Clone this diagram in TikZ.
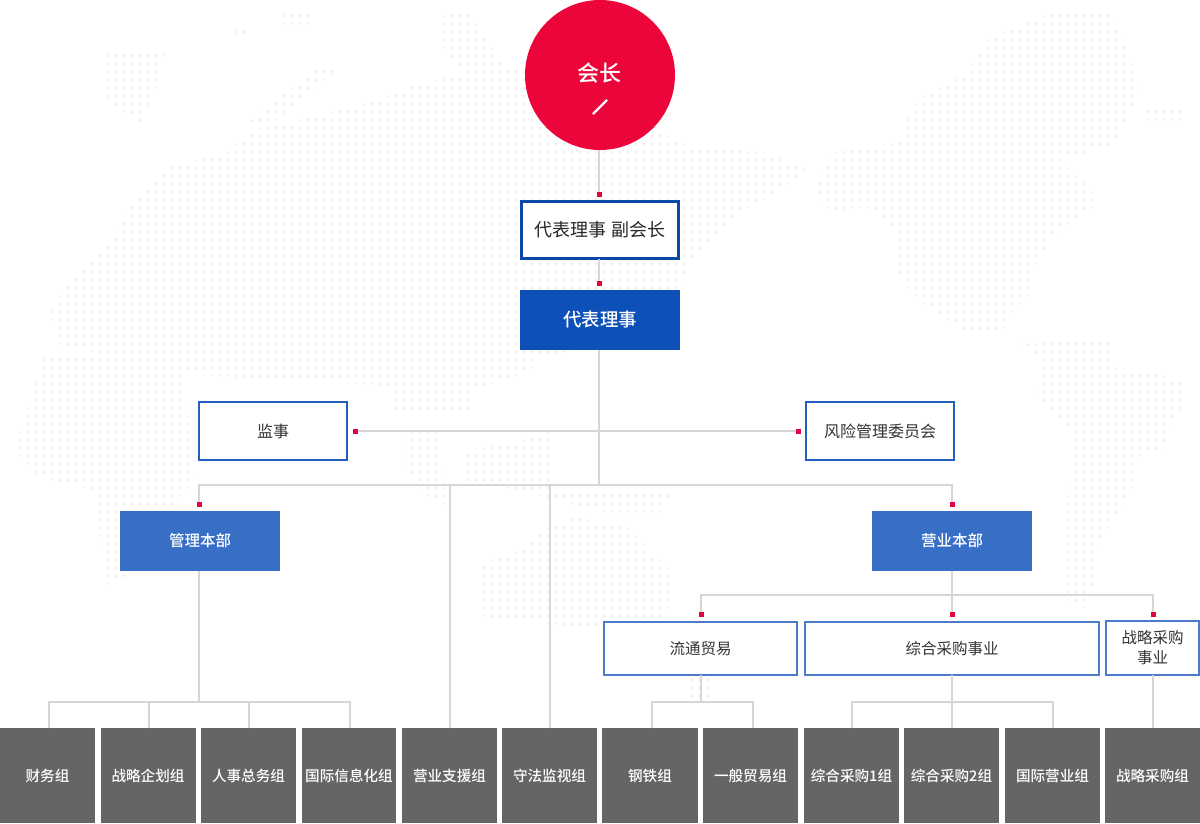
\documentclass[tikz,border=0pt]{standalone}
\usepackage{fontspec}
\usepackage{xcolor}
\setmainfont{Noto Sans CJK SC}
\newfontfamily\cjk{Noto Sans CJK SC}
\newfontfamily\cjkmed{Noto Sans CJK SC Medium}

\definecolor{chairred}{HTML}{EC053B}
\definecolor{dotred}{HTML}{E4053F}
\definecolor{deepblue}{HTML}{0D50B8}
\definecolor{midblue}{HTML}{386FC6}
\definecolor{edgeblue}{HTML}{1F5FBF}
\definecolor{softblue}{HTML}{4A7CC9}
\definecolor{teamgray}{HTML}{656567}
\definecolor{wiregray}{HTML}{D6D6D6}
\definecolor{textgray}{HTML}{333333}
\definecolor{mapgray}{HTML}{F1F1F1}

\begin{document}
\begin{tikzpicture}[x=1pt,y=-1pt]

    % --- Global Settings ---
    \tikzset{
        wire/.style={line width=2pt, wiregray},
        mapdots/.style={line width=3.6pt, mapgray, line cap=round, dash pattern=on 0pt off 8pt},
        reddot/.style={fill=dotred, inner sep=0pt, outer sep=0pt, minimum size=5pt},
        plainbox/.style={fill=white, inner sep=0pt, outer sep=0pt, align=center, text=textgray, font=\cjk\fontsize{16}{20}\selectfont},
        auditbox/.style={plainbox, draw=edgeblue, line width=2pt, minimum width=148pt, minimum height=58pt},
        bizbox/.style={plainbox, draw=softblue, line width=2pt, minimum height=53pt, font=\cjk\fontsize{15.5}{20}\selectfont},
        hqbox/.style={fill=midblue, text=white, inner sep=0pt, outer sep=0pt, minimum width=160pt, minimum height=60pt, font=\cjkmed\fontsize{15.5}{18}\selectfont},
        teambox/.style={fill=teamgray, text=white, inner sep=0pt, outer sep=0pt, minimum height=95pt, font=\cjkmed\fontsize{14.6}{18}\selectfont}
    }

    \useasboundingbox (0,0) rectangle (1200,823);

    % --- Dotted world map behind the chart ---
    \begin{scope}
        \clip (50,314) -- (65,287) -- (100,253) -- (119,230) -- (130,207) -- (153,184) -- (168,168) -- (226,153) -- (253,130) -- (306,119) -- (379,100) -- (417,84) -- (478,73) -- (478,54) -- (600,100) -- (685,145) -- (765,153) -- (808,170) -- (772,195) -- (742,210) -- (715,237) -- (692,260) -- (680,285) -- (620,345) -- (532,356) -- (532,372) -- (475,388) -- (470,410) -- (394,410) -- (394,386) -- (300,380) -- (200,375) -- (60,345) -- cycle
              (45,355) -- (180,350) -- (195,480) -- (180,495) -- (140,570) -- (105,585) -- (96,490) -- (40,478) -- (15,450) -- (30,400) -- cycle
              (107,54) -- (165,54) -- (155,90) -- (140,124) -- (107,100) -- cycle
              (283,13) -- (310,13) -- (310,24) -- (283,24) -- cycle
              (235,26) -- (247,26) -- (247,34) -- (235,34) -- cycle
              (320,66) -- (336,70) -- (270,125) -- (245,125) -- cycle
              (444,13) -- (469,13) -- (494,50) -- (494,75) -- (467,75) -- (444,50) -- cycle
              (405,432) -- (440,432) -- (445,505) -- (425,495) -- (405,465) -- cycle
              (465,450) -- (512,445) -- (552,428) -- (552,490) -- (640,490) -- (670,495) -- (660,512) -- (600,512) -- (520,490) -- (465,480) -- cycle
              (580,516) -- (600,524) -- (630,528) -- (650,552) -- (672,572) -- (672,600) -- (662,620) -- (590,628) -- (530,622) -- (484,618) -- (480,565) -- (520,550) -- (540,530) -- cycle
              (690,677) -- (710,677) -- (710,703) -- (690,703) -- cycle
              (1052,13) -- (1109,13) -- (1128,50) -- (1140,92) -- (1113,145) -- (1059,160) -- (1090,188) -- (1098,203) -- (1071,222) -- (1052,237) -- (1036,264) -- (1029,275) -- (1029,295) -- (1006,318) -- (1002,333) -- (967,333) -- (933,310) -- (914,295) -- (898,275) -- (898,233) -- (868,207) -- (830,210) -- (814,191) -- (833,153) -- (902,142) -- (906,122) -- (918,100) -- (967,73) -- (990,38) -- cycle
              (1147,105) -- (1182,105) -- (1182,120) -- (1147,120) -- cycle
              (1021,344) -- (1109,340) -- (1113,367) -- (1182,379) -- (1185,402) -- (1170,425) -- (1163,448) -- (1132,459) -- (1132,490) -- (1117,513) -- (1094,551) -- (1094,582) -- (1085,608) -- (1068,600) -- (1067,509) -- (1075,432) -- (1052,413) -- (1036,394) -- (1044,360) -- cycle;
        \foreach \y in {8,16,...,704} {
            \draw[mapdots] (4,\y) -- (1200,\y);
        }
    \end{scope}

    % --- Top of the chart ---
    \node[circle, fill=chairred, inner sep=0pt, minimum size=150pt] (chair) at (600,75) {};
    \node[text=white, inner sep=0pt, font=\cjkmed\fontsize{22}{24}\selectfont] (chairtext) at (599,73) {会长};
    \coordinate (slashA) at (593,114);
    \coordinate (slashB) at (607,100);
    \draw[white, line width=2.4pt] (slashA) -- (slashB);

    \node[plainbox, draw=deepblue!90!black, line width=3pt, minimum width=157pt, minimum height=57pt, text=black!85, font=\cjk\fontsize{18}{20}\selectfont] (vicechair) at (600,230) {代表理事 副会长};
    \node[fill=deepblue, text=white, inner sep=0pt, outer sep=0pt, minimum width=160pt, minimum height=60pt, font=\cjkmed\fontsize{18.4}{20}\selectfont] (director) at (600,320) {代表理事};

    \node[reddot] (dotvice) at (599,194) {};
    \node[reddot] (dotdirector) at (599,283) {};

    % --- Audit row ---
    \node[auditbox] (audit) at (273,431) {监事};
    \node[auditbox] (risk) at (880,431) {风险管理委员会};
    \node[reddot] (dotaudit) at (355,431) {};
    \node[reddot] (dotrisk) at (798,431) {};

    % --- Head offices ---
    \node[hqbox] (adminhq) at (200,541) {管理本部};
    \node[hqbox] (saleshq) at (952,541) {营业本部};
    \node[reddot] (dotadmin) at (199,504) {};
    \node[reddot] (dotsales) at (952,504) {};
    \coordinate (trunk) at (599,485);

    % --- Business units ---
    \node[bizbox, minimum width=193pt] (trade) at (700.5,648.5) {流通贸易};
    \node[bizbox, minimum width=294pt] (purchase) at (952,648.5) {综合采购事业};
    \node[bizbox, minimum width=93pt, minimum height=54pt] (strategy) at (1152.5,648) {战略采购\\事业};
    \node[reddot] (dottrade) at (701,614) {};
    \node[reddot] (dotpurchase) at (952,614) {};
    \node[reddot] (dotstrategy) at (1153,614) {};

    % --- Teams along the bottom edge ---
    \foreach \name/\x/\w/\label in {
        finance/47.5/95/财务组,
        planning/148/95/战略企划组,
        personnel/248.5/95/人事总务组,
        itteam/349/94/国际信息化组,
        support/449.5/95/营业支援组,
        comply/549.5/95/守法监视组,
        steel/650/96/钢铁组,
        general/750.5/95/一般贸易组,
        buyone/851.5/95/综合采购1组,
        buytwo/951.5/95/综合采购2组,
        global/1052.5/95/国际营业组,
        buythree/1152.5/95/战略采购组} {
        \node[teambox, minimum width=\w pt] (\name) at (\x,775.5) {\label};
    }

    % --- Feet of the connectors on the team row ---
    \foreach \name/\x in {footfinance/49, footplanning/149, footpersonnel/249, footit/350, footsupport/450, footcomply/550, footsteel/652, footgeneral/753, footbuyone/852, footbuytwo/952, footglobal/1053, footbuythree/1153} {
        \coordinate (\name) at (\x,728);
    }

    % --- Connectors ---
    \draw[wire] (chair.south -| dotvice) -- (dotvice);
    \draw[wire] (vicechair.south -| dotdirector) -- (dotdirector);
    \draw[wire] (director.south -| trunk) -- (trunk);
    \draw[wire] (dotaudit) -- (dotrisk);
    \draw[wire] (dotadmin) |- (trunk);
    \draw[wire] (dotsales) |- (trunk);
    \draw[wire] (footsupport) -- (footsupport |- trunk);
    \draw[wire] (footcomply) -- (footcomply |- trunk);

    \coordinate (adminbar) at (199,702);
    \draw[wire] (adminhq.south -| adminbar) -- (adminbar);
    \draw[wire] (footfinance) |- (adminbar) -| (footit);
    \draw[wire] (footplanning) -- (footplanning |- adminbar);
    \draw[wire] (footpersonnel) -- (footpersonnel |- adminbar);

    \coordinate (salesbar) at (952,595);
    \draw[wire] (saleshq.south) -- (dotpurchase);
    \draw[wire] (dottrade) |- (salesbar);
    \draw[wire] (dotstrategy) |- (salesbar);

    \coordinate (tradebar) at (701,702);
    \draw[wire] (trade.south -| tradebar) -- (tradebar);
    \draw[wire] (footsteel) |- (tradebar) -| (footgeneral);

    \coordinate (buybar) at (952,702);
    \draw[wire] (purchase.south) -- (footbuytwo);
    \draw[wire] (footbuyone) |- (buybar) -| (footglobal);

    \draw[wire] (strategy.south -| footbuythree) -- (footbuythree);

\end{tikzpicture}
\end{document}
